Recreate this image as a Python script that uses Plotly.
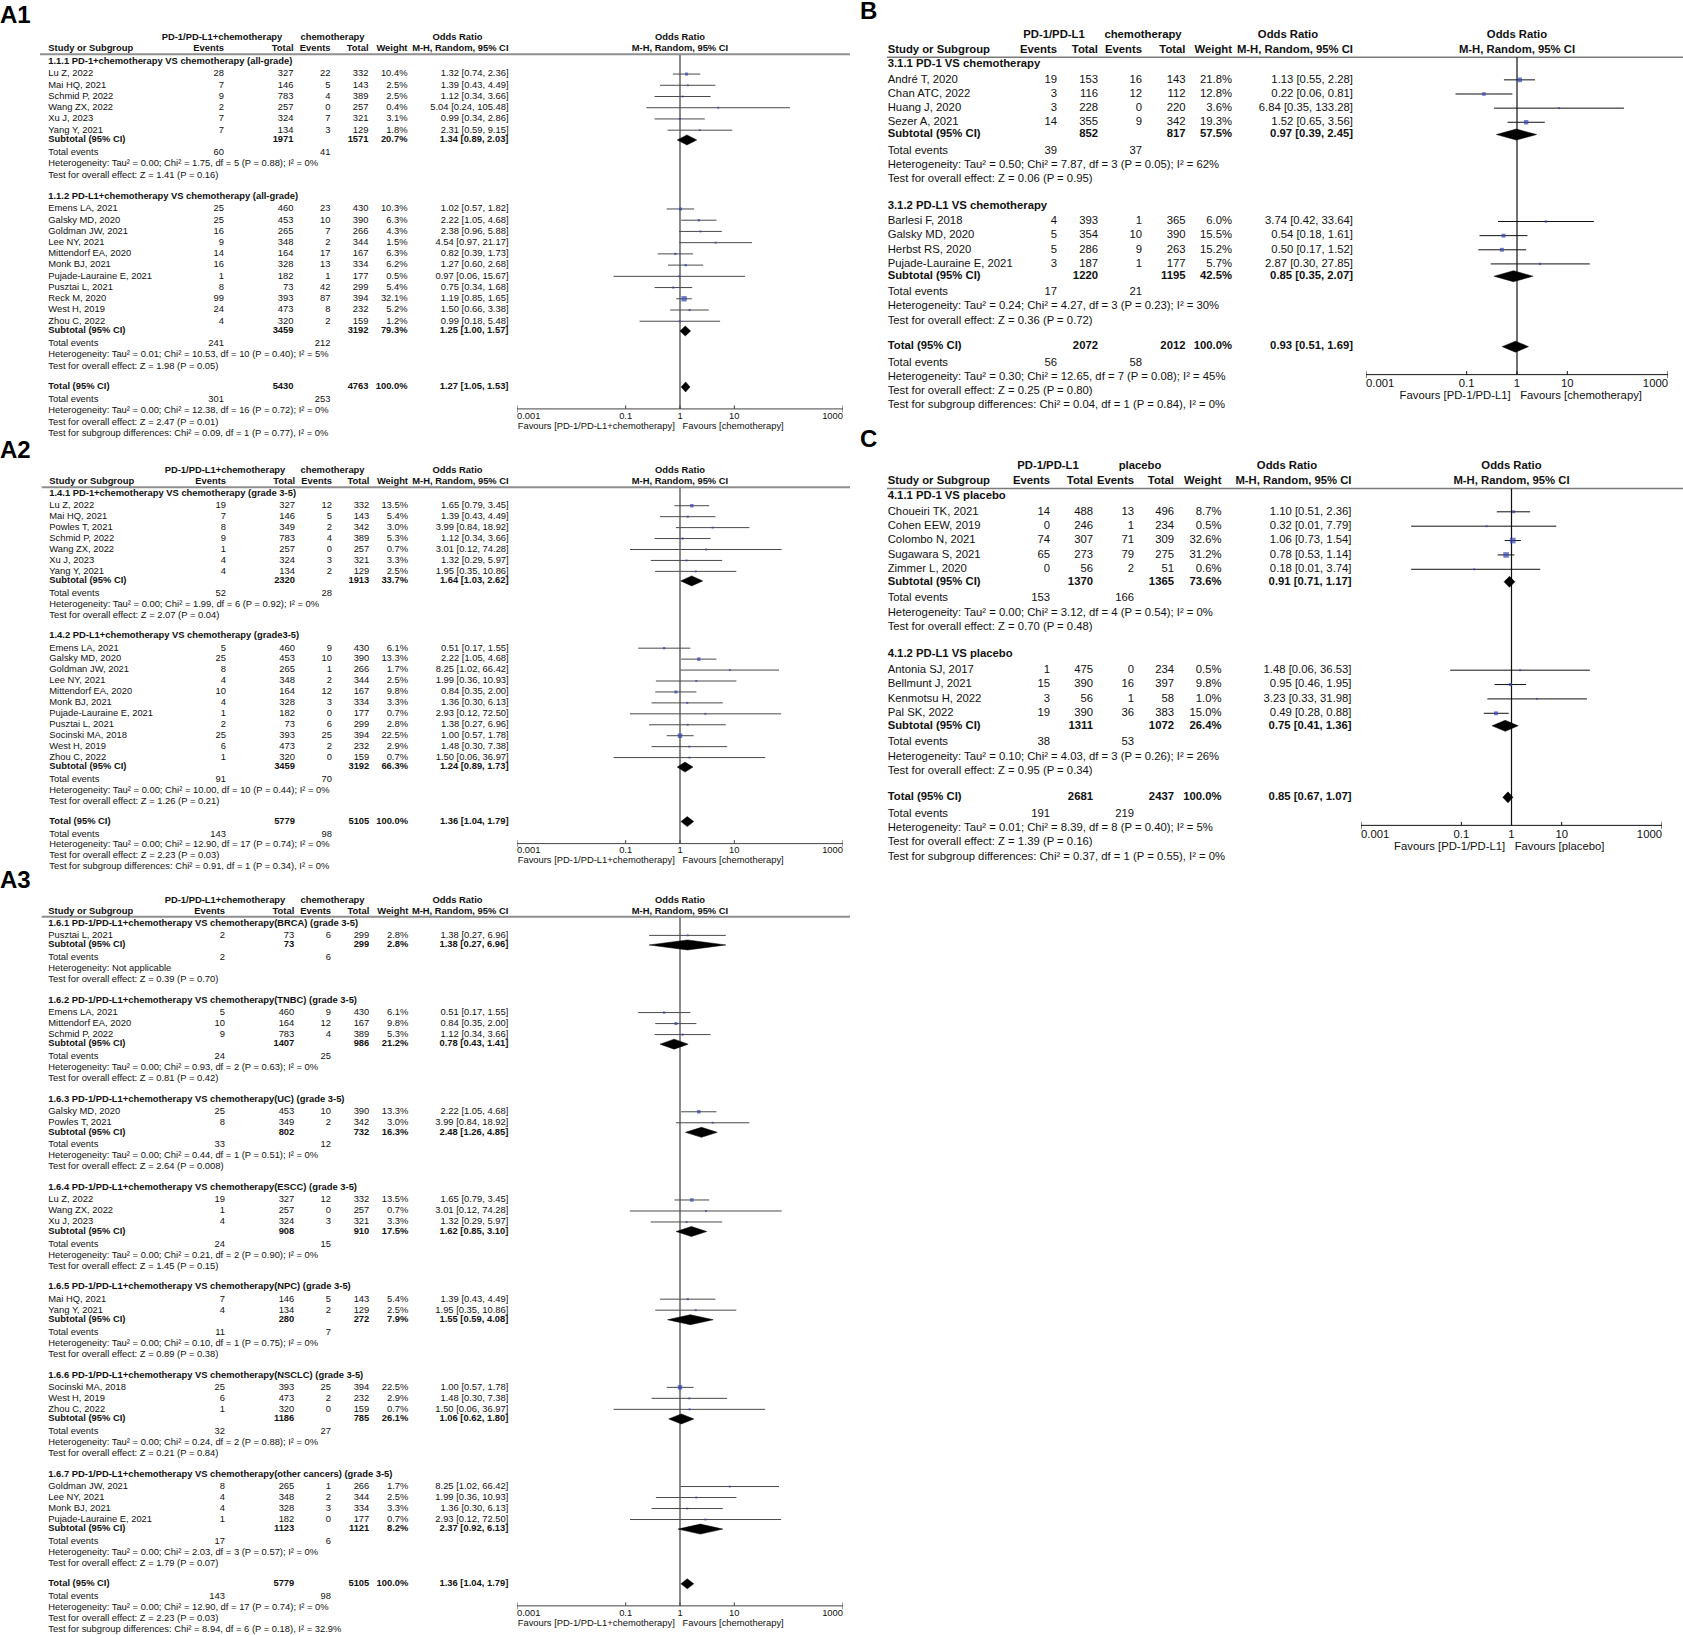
import math
import plotly.graph_objects as go

W, H = 1683, 1635

# ======================= DATA =======================
AXIS_TICKS = [0.001, 0.1, 1, 10, 1000]
AXIS_TICK_LABELS = ["0.001", "0.1", "1", "10", "1000"]

# ---- Panel A1 ----
A1_HEADS = ("PD-1/PD-L1+chemotherapy", "chemotherapy")
A1_GROUPS = ["1.1.1 PD-1+chemotherapy VS chemotherapy (all-grade)",
             "1.1.2 PD-L1+chemotherapy VS chemotherapy (all-grade)"]
A1_STUDIES = [
    [("Lu Z, 2022", 28, 327, 22, 332, 10.4, 1.32, 0.74, 2.36),
     ("Mai HQ, 2021", 7, 146, 5, 143, 2.5, 1.39, 0.43, 4.49),
     ("Schmid P, 2022", 9, 783, 4, 389, 2.5, 1.12, 0.34, 3.66),
     ("Wang ZX, 2022", 2, 257, 0, 257, 0.4, 5.04, 0.24, 105.48),
     ("Xu J, 2023", 7, 324, 7, 321, 3.1, 0.99, 0.34, 2.86),
     ("Yang Y, 2021", 7, 134, 3, 129, 1.8, 2.31, 0.59, 9.15)],
    [("Emens LA, 2021", 25, 460, 23, 430, 10.3, 1.02, 0.57, 1.82),
     ("Galsky MD, 2020", 25, 453, 10, 390, 6.3, 2.22, 1.05, 4.68),
     ("Goldman JW, 2021", 16, 265, 7, 266, 4.3, 2.38, 0.96, 5.88),
     ("Lee NY, 2021", 9, 348, 2, 344, 1.5, 4.54, 0.97, 21.17),
     ("Mittendorf EA, 2020", 14, 164, 17, 167, 6.3, 0.82, 0.39, 1.73),
     ("Monk BJ, 2021", 16, 328, 13, 334, 6.2, 1.27, 0.60, 2.68),
     ("Pujade-Lauraine E, 2021", 1, 182, 1, 177, 0.5, 0.97, 0.06, 15.67),
     ("Pusztai L, 2021", 8, 73, 42, 299, 5.4, 0.75, 0.34, 1.68),
     ("Reck M, 2020", 99, 393, 87, 394, 32.1, 1.19, 0.85, 1.65),
     ("West H, 2019", 24, 473, 8, 232, 5.2, 1.50, 0.66, 3.38),
     ("Zhou C, 2022", 4, 320, 2, 159, 1.2, 0.99, 0.18, 5.48)]]
A1_SUBTOTALS = [(1971, 1571, 20.7, 1.34, 0.89, 2.03), (3459, 3192, 79.3, 1.25, 1.00, 1.57)]
A1_EVENTS = [(60, 41), (241, 212)]
A1_HETERO = ["Heterogeneity: Tau² = 0.00; Chi² = 1.75, df = 5 (P = 0.88); I² = 0%",
             "Heterogeneity: Tau² = 0.01; Chi² = 10.53, df = 10 (P = 0.40); I² = 5%"]
A1_EFFECT = ["Test for overall effect: Z = 1.41 (P = 0.16)",
             "Test for overall effect: Z = 1.98 (P = 0.05)"]
A1_TOTAL = (5430, 4763, 100.0, 1.27, 1.05, 1.53)
A1_TOTAL_EVENTS = (301, 253)
A1_TOTAL_HETERO = "Heterogeneity: Tau² = 0.00; Chi² = 12.38, df = 16 (P = 0.72); I² = 0%"
A1_TOTAL_EFFECT = "Test for overall effect: Z = 2.47 (P = 0.01)"
A1_SUBGROUP_DIFF = "Test for subgroup differences: Chi² = 0.09, df = 1 (P = 0.77), I² = 0%"
A1_FAVOURS = ("Favours [PD-1/PD-L1+chemotherapy]", "Favours [chemotherapy]")

# ---- Panel A2 ----
A2_HEADS = ("PD-1/PD-L1+chemotherapy", "chemotherapy")
A2_GROUPS = ["1.4.1 PD-1+chemotherapy VS chemotherapy (grade 3-5)",
             "1.4.2 PD-L1+chemotherapy VS chemotherapy (grade3-5)"]
A2_STUDIES = [
    [("Lu Z, 2022", 19, 327, 12, 332, 13.5, 1.65, 0.79, 3.45),
     ("Mai HQ, 2021", 7, 146, 5, 143, 5.4, 1.39, 0.43, 4.49),
     ("Powles T, 2021", 8, 349, 2, 342, 3.0, 3.99, 0.84, 18.92),
     ("Schmid P, 2022", 9, 783, 4, 389, 5.3, 1.12, 0.34, 3.66),
     ("Wang ZX, 2022", 1, 257, 0, 257, 0.7, 3.01, 0.12, 74.28),
     ("Xu J, 2023", 4, 324, 3, 321, 3.3, 1.32, 0.29, 5.97),
     ("Yang Y, 2021", 4, 134, 2, 129, 2.5, 1.95, 0.35, 10.86)],
    [("Emens LA, 2021", 5, 460, 9, 430, 6.1, 0.51, 0.17, 1.55),
     ("Galsky MD, 2020", 25, 453, 10, 390, 13.3, 2.22, 1.05, 4.68),
     ("Goldman JW, 2021", 8, 265, 1, 266, 1.7, 8.25, 1.02, 66.42),
     ("Lee NY, 2021", 4, 348, 2, 344, 2.5, 1.99, 0.36, 10.93),
     ("Mittendorf EA, 2020", 10, 164, 12, 167, 9.8, 0.84, 0.35, 2.00),
     ("Monk BJ, 2021", 4, 328, 3, 334, 3.3, 1.36, 0.30, 6.13),
     ("Pujade-Lauraine E, 2021", 1, 182, 0, 177, 0.7, 2.93, 0.12, 72.50),
     ("Pusztai L, 2021", 2, 73, 6, 299, 2.8, 1.38, 0.27, 6.96),
     ("Socinski MA, 2018", 25, 393, 25, 394, 22.5, 1.00, 0.57, 1.78),
     ("West H, 2019", 6, 473, 2, 232, 2.9, 1.48, 0.30, 7.38),
     ("Zhou C, 2022", 1, 320, 0, 159, 0.7, 1.50, 0.06, 36.97)]]
A2_SUBTOTALS = [(2320, 1913, 33.7, 1.64, 1.03, 2.62), (3459, 3192, 66.3, 1.24, 0.89, 1.73)]
A2_EVENTS = [(52, 28), (91, 70)]
A2_HETERO = ["Heterogeneity: Tau² = 0.00; Chi² = 1.99, df = 6 (P = 0.92); I² = 0%",
             "Heterogeneity: Tau² = 0.00; Chi² = 10.00, df = 10 (P = 0.44); I² = 0%"]
A2_EFFECT = ["Test for overall effect: Z = 2.07 (P = 0.04)",
             "Test for overall effect: Z = 1.26 (P = 0.21)"]
A2_TOTAL = (5779, 5105, 100.0, 1.36, 1.04, 1.79)
A2_TOTAL_EVENTS = (143, 98)
A2_TOTAL_HETERO = "Heterogeneity: Tau² = 0.00; Chi² = 12.90, df = 17 (P = 0.74); I² = 0%"
A2_TOTAL_EFFECT = "Test for overall effect: Z = 2.23 (P = 0.03)"
A2_SUBGROUP_DIFF = "Test for subgroup differences: Chi² = 0.91, df = 1 (P = 0.34), I² = 0%"
A2_FAVOURS = ("Favours [PD-1/PD-L1+chemotherapy]", "Favours [chemotherapy]")

# ---- Panel A3 ----
A3_HEADS = ("PD-1/PD-L1+chemotherapy", "chemotherapy")
A3_GROUPS = ["1.6.1 PD-1/PD-L1+chemotherapy VS chemotherapy(BRCA) (grade 3-5)",
             "1.6.2 PD-1/PD-L1+chemotherapy VS chemotherapy(TNBC) (grade 3-5)",
             "1.6.3 PD-1/PD-L1+chemotherapy VS chemotherapy(UC) (grade 3-5)",
             "1.6.4 PD-1/PD-L1+chemotherapy VS chemotherapy(ESCC) (grade 3-5)",
             "1.6.5 PD-1/PD-L1+chemotherapy VS chemotherapy(NPC) (grade 3-5)",
             "1.6.6 PD-1/PD-L1+chemotherapy VS chemotherapy(NSCLC) (grade 3-5)",
             "1.6.7 PD-1/PD-L1+chemotherapy VS chemotherapy(other cancers) (grade 3-5)"]
A3_STUDIES = [
    [("Pusztai L, 2021", 2, 73, 6, 299, 2.8, 1.38, 0.27, 6.96)],
    [("Emens LA, 2021", 5, 460, 9, 430, 6.1, 0.51, 0.17, 1.55),
     ("Mittendorf EA, 2020", 10, 164, 12, 167, 9.8, 0.84, 0.35, 2.00),
     ("Schmid P, 2022", 9, 783, 4, 389, 5.3, 1.12, 0.34, 3.66)],
    [("Galsky MD, 2020", 25, 453, 10, 390, 13.3, 2.22, 1.05, 4.68),
     ("Powles T, 2021", 8, 349, 2, 342, 3.0, 3.99, 0.84, 18.92)],
    [("Lu Z, 2022", 19, 327, 12, 332, 13.5, 1.65, 0.79, 3.45),
     ("Wang ZX, 2022", 1, 257, 0, 257, 0.7, 3.01, 0.12, 74.28),
     ("Xu J, 2023", 4, 324, 3, 321, 3.3, 1.32, 0.29, 5.97)],
    [("Mai HQ, 2021", 7, 146, 5, 143, 5.4, 1.39, 0.43, 4.49),
     ("Yang Y, 2021", 4, 134, 2, 129, 2.5, 1.95, 0.35, 10.86)],
    [("Socinski MA, 2018", 25, 393, 25, 394, 22.5, 1.00, 0.57, 1.78),
     ("West H, 2019", 6, 473, 2, 232, 2.9, 1.48, 0.30, 7.38),
     ("Zhou C, 2022", 1, 320, 0, 159, 0.7, 1.50, 0.06, 36.97)],
    [("Goldman JW, 2021", 8, 265, 1, 266, 1.7, 8.25, 1.02, 66.42),
     ("Lee NY, 2021", 4, 348, 2, 344, 2.5, 1.99, 0.36, 10.93),
     ("Monk BJ, 2021", 4, 328, 3, 334, 3.3, 1.36, 0.30, 6.13),
     ("Pujade-Lauraine E, 2021", 1, 182, 0, 177, 0.7, 2.93, 0.12, 72.50)]]
A3_SUBTOTALS = [(73, 299, 2.8, 1.38, 0.27, 6.96), (1407, 986, 21.2, 0.78, 0.43, 1.41),
                (802, 732, 16.3, 2.48, 1.26, 4.85), (908, 910, 17.5, 1.62, 0.85, 3.10),
                (280, 272, 7.9, 1.55, 0.59, 4.08), (1186, 785, 26.1, 1.06, 0.62, 1.80),
                (1123, 1121, 8.2, 2.37, 0.92, 6.13)]
A3_EVENTS = [(2, 6), (24, 25), (33, 12), (24, 15), (11, 7), (32, 27), (17, 6)]
A3_HETERO = ["Heterogeneity: Not applicable",
             "Heterogeneity: Tau² = 0.00; Chi² = 0.93, df = 2 (P = 0.63); I² = 0%",
             "Heterogeneity: Tau² = 0.00; Chi² = 0.44, df = 1 (P = 0.51); I² = 0%",
             "Heterogeneity: Tau² = 0.00; Chi² = 0.21, df = 2 (P = 0.90); I² = 0%",
             "Heterogeneity: Tau² = 0.00; Chi² = 0.10, df = 1 (P = 0.75); I² = 0%",
             "Heterogeneity: Tau² = 0.00; Chi² = 0.24, df = 2 (P = 0.88); I² = 0%",
             "Heterogeneity: Tau² = 0.00; Chi² = 2.03, df = 3 (P = 0.57); I² = 0%"]
A3_EFFECT = ["Test for overall effect: Z = 0.39 (P = 0.70)",
             "Test for overall effect: Z = 0.81 (P = 0.42)",
             "Test for overall effect: Z = 2.64 (P = 0.008)",
             "Test for overall effect: Z = 1.45 (P = 0.15)",
             "Test for overall effect: Z = 0.89 (P = 0.38)",
             "Test for overall effect: Z = 0.21 (P = 0.84)",
             "Test for overall effect: Z = 1.79 (P = 0.07)"]
A3_TOTAL = (5779, 5105, 100.0, 1.36, 1.04, 1.79)
A3_TOTAL_EVENTS = (143, 98)
A3_TOTAL_HETERO = "Heterogeneity: Tau² = 0.00; Chi² = 12.90, df = 17 (P = 0.74); I² = 0%"
A3_TOTAL_EFFECT = "Test for overall effect: Z = 2.23 (P = 0.03)"
A3_SUBGROUP_DIFF = "Test for subgroup differences: Chi² = 8.94, df = 6 (P = 0.18), I² = 32.9%"
A3_FAVOURS = ("Favours [PD-1/PD-L1+chemotherapy]", "Favours [chemotherapy]")

# ---- Panel B ----
B_HEADS = ("PD-1/PD-L1", "chemotherapy")
B_GROUPS = ["3.1.1 PD-1 VS chemotherapy", "3.1.2 PD-L1 VS chemotherapy"]
B_STUDIES = [
    [("André T, 2020", 19, 153, 16, 143, 21.8, 1.13, 0.55, 2.28),
     ("Chan ATC, 2022", 3, 116, 12, 112, 12.8, 0.22, 0.06, 0.81),
     ("Huang J, 2020", 3, 228, 0, 220, 3.6, 6.84, 0.35, 133.28),
     ("Sezer A, 2021", 14, 355, 9, 342, 19.3, 1.52, 0.65, 3.56)],
    [("Barlesi F, 2018", 4, 393, 1, 365, 6.0, 3.74, 0.42, 33.64),
     ("Galsky MD, 2020", 5, 354, 10, 390, 15.5, 0.54, 0.18, 1.61),
     ("Herbst RS, 2020", 5, 286, 9, 263, 15.2, 0.50, 0.17, 1.52),
     ("Pujade-Lauraine E, 2021", 3, 187, 1, 177, 5.7, 2.87, 0.30, 27.85)]]
B_SUBTOTALS = [(852, 817, 57.5, 0.97, 0.39, 2.45), (1220, 1195, 42.5, 0.85, 0.35, 2.07)]
B_EVENTS = [(39, 37), (17, 21)]
B_HETERO = ["Heterogeneity: Tau² = 0.50; Chi² = 7.87, df = 3 (P = 0.05); I² = 62%",
            "Heterogeneity: Tau² = 0.24; Chi² = 4.27, df = 3 (P = 0.23); I² = 30%"]
B_EFFECT = ["Test for overall effect: Z = 0.06 (P = 0.95)",
            "Test for overall effect: Z = 0.36 (P = 0.72)"]
B_TOTAL = (2072, 2012, 100.0, 0.93, 0.51, 1.69)
B_TOTAL_EVENTS = (56, 58)
B_TOTAL_HETERO = "Heterogeneity: Tau² = 0.30; Chi² = 12.65, df = 7 (P = 0.08); I² = 45%"
B_TOTAL_EFFECT = "Test for overall effect: Z = 0.25 (P = 0.80)"
B_SUBGROUP_DIFF = "Test for subgroup differences: Chi² = 0.04, df = 1 (P = 0.84), I² = 0%"
B_FAVOURS = ("Favours [PD-1/PD-L1]", "Favours [chemotherapy]")

# ---- Panel C ----
C_HEADS = ("PD-1/PD-L1", "placebo")
C_GROUPS = ["4.1.1 PD-1 VS placebo", "4.1.2 PD-L1 VS placebo"]
C_STUDIES = [
    [("Choueiri TK, 2021", 14, 488, 13, 496, 8.7, 1.10, 0.51, 2.36),
     ("Cohen EEW, 2019", 0, 246, 1, 234, 0.5, 0.32, 0.01, 7.79),
     ("Colombo N, 2021", 74, 307, 71, 309, 32.6, 1.06, 0.73, 1.54),
     ("Sugawara S, 2021", 65, 273, 79, 275, 31.2, 0.78, 0.53, 1.14),
     ("Zimmer L, 2020", 0, 56, 2, 51, 0.6, 0.18, 0.01, 3.74)],
    [("Antonia SJ, 2017", 1, 475, 0, 234, 0.5, 1.48, 0.06, 36.53),
     ("Bellmunt J, 2021", 15, 390, 16, 397, 9.8, 0.95, 0.46, 1.95),
     ("Kenmotsu H, 2022", 3, 56, 1, 58, 1.0, 3.23, 0.33, 31.98),
     ("Pal SK, 2022", 19, 390, 36, 383, 15.0, 0.49, 0.28, 0.88)]]
C_SUBTOTALS = [(1370, 1365, 73.6, 0.91, 0.71, 1.17), (1311, 1072, 26.4, 0.75, 0.41, 1.36)]
C_EVENTS = [(153, 166), (38, 53)]
C_HETERO = ["Heterogeneity: Tau² = 0.00; Chi² = 3.12, df = 4 (P = 0.54); I² = 0%",
            "Heterogeneity: Tau² = 0.10; Chi² = 4.03, df = 3 (P = 0.26); I² = 26%"]
C_EFFECT = ["Test for overall effect: Z = 0.70 (P = 0.48)",
            "Test for overall effect: Z = 0.95 (P = 0.34)"]
C_TOTAL = (2681, 2437, 100.0, 0.85, 0.67, 1.07)
C_TOTAL_EVENTS = (191, 219)
C_TOTAL_HETERO = "Heterogeneity: Tau² = 0.01; Chi² = 8.39, df = 8 (P = 0.40); I² = 5%"
C_TOTAL_EFFECT = "Test for overall effect: Z = 1.39 (P = 0.16)"
C_SUBGROUP_DIFF = "Test for subgroup differences: Chi² = 0.37, df = 1 (P = 0.55), I² = 0%"
C_FAVOURS = ("Favours [PD-1/PD-L1]", "Favours [placebo]")

# ======================= LAYOUT / STYLE =======================
FONT = "Liberation Sans, Arial, Helvetica, sans-serif"
BLUE = "#3545b0"

STYLE_A = dict(fs=9.4, sq_k=0.95, dia=5.0, ci_col="#4a4a4a", vline_col="#8a8a8a", vline_w=2,
               sep_col="#8f8f8f", sep_w=2, axis_col="#444444", axis_dy=22, tick_dy=29.5,
               fav_dy=39.5, xaxis="x2", dom=(517, 843))
STYLE_BC = dict(fs=11.3, sq_k=1.0, dia=5.5, ci_col="#111111", vline_col="#111111", vline_w=1.2,
                sep_col="#7a7a7a", sep_w=1.6, axis_col="#111111", axis_dy=28, tick_dy=38,
                fav_dy=50)

LAYOUTS = {
    "A1": dict(STYLE_A, label="A1", label_pos=(0, 16.5), study_x=48.3,
               cols=(224, 293.5, 330.5, 368.5, 407.5, 508.5), heads_c=(222, 332.5, 457.5),
               head_y=(37.5, 48.7), sep_y=54.2, sep_x=(40, 850), first=61.7, last=433.5),
    "A2": dict(STYLE_A, label="A2", label_pos=(0, 452), study_x=49.3,
               cols=(226, 295, 332, 369.3, 408, 508.7), heads_c=(225, 332.5, 457.5),
               head_y=(470.5, 481.7), sep_y=487.2, sep_x=(41.7, 850), first=493.7, last=867),
    "A3": dict(STYLE_A, label="A3", label_pos=(0, 882), study_x=48.3,
               cols=(225, 294.3, 331, 369.3, 408.3, 508.3), heads_c=(225, 332.5, 457.5),
               head_y=(900.5, 911.3), sep_y=916.8, sep_x=(41.7, 850), first=923.3, last=1629.5),
    "B": dict(STYLE_BC, label="B", label_pos=(860, 12.5), study_x=887.7,
              cols=(1057, 1098, 1142, 1185.5, 1232, 1353), heads_c=(1054, 1143, 1288),
              head_y=(35, 50), sep_y=57.3, sep_x=(887, 1683), first=64.3, last=405.3,
              xaxis="x3", dom=(1366, 1668)),
    "C": dict(STYLE_BC, label="C", label_pos=(860, 441), study_x=887.7,
              cols=(1050, 1093, 1134, 1174, 1221.5, 1351.5), heads_c=(1048, 1140, 1287),
              head_y=(466, 481), sep_y=488.5, sep_x=(887, 1683), first=496, last=857,
              xaxis="x4", dom=(1361, 1662)),
}

PANELS = [
    ("A1", dict(heads=A1_HEADS, groups=A1_GROUPS, studies=A1_STUDIES, subs=A1_SUBTOTALS,
                events=A1_EVENTS, het=A1_HETERO, eff=A1_EFFECT, total=A1_TOTAL,
                tevents=A1_TOTAL_EVENTS, thet=A1_TOTAL_HETERO, teff=A1_TOTAL_EFFECT,
                sgd=A1_SUBGROUP_DIFF, fav=A1_FAVOURS)),
    ("A2", dict(heads=A2_HEADS, groups=A2_GROUPS, studies=A2_STUDIES, subs=A2_SUBTOTALS,
                events=A2_EVENTS, het=A2_HETERO, eff=A2_EFFECT, total=A2_TOTAL,
                tevents=A2_TOTAL_EVENTS, thet=A2_TOTAL_HETERO, teff=A2_TOTAL_EFFECT,
                sgd=A2_SUBGROUP_DIFF, fav=A2_FAVOURS)),
    ("A3", dict(heads=A3_HEADS, groups=A3_GROUPS, studies=A3_STUDIES, subs=A3_SUBTOTALS,
                events=A3_EVENTS, het=A3_HETERO, eff=A3_EFFECT, total=A3_TOTAL,
                tevents=A3_TOTAL_EVENTS, thet=A3_TOTAL_HETERO, teff=A3_TOTAL_EFFECT,
                sgd=A3_SUBGROUP_DIFF, fav=A3_FAVOURS)),
    ("B", dict(heads=B_HEADS, groups=B_GROUPS, studies=B_STUDIES, subs=B_SUBTOTALS,
               events=B_EVENTS, het=B_HETERO, eff=B_EFFECT, total=B_TOTAL,
               tevents=B_TOTAL_EVENTS, thet=B_TOTAL_HETERO, teff=B_TOTAL_EFFECT,
               sgd=B_SUBGROUP_DIFF, fav=B_FAVOURS)),
    ("C", dict(heads=C_HEADS, groups=C_GROUPS, studies=C_STUDIES, subs=C_SUBTOTALS,
               events=C_EVENTS, het=C_HETERO, eff=C_EFFECT, total=C_TOTAL,
               tevents=C_TOTAL_EVENTS, thet=C_TOTAL_HETERO, teff=C_TOTAL_EFFECT,
               sgd=C_SUBGROUP_DIFF, fav=C_FAVOURS)),
]


def ci_text(o, lo, hi):
    return f"{o:.2f} [{lo:.2f}, {hi:.2f}]"


fig = go.Figure()
LEFT, RIGHT, CENTER = "middle right", "middle left", "middle center"


def draw_panel(key, D):
    L = LAYOUTS[key]
    # ---- row positions (in row units) ----
    rows = []
    u = 0.0
    for gi, gname in enumerate(D["groups"]):
        if gi > 0:
            u += 1.9
        rows.append(("ghead", u, gname))
        for si, s in enumerate(D["studies"][gi]):
            u += 1.1 if si == 0 else 1.0
            rows.append(("study", u, s))
        u += 0.87
        rows.append(("sub", u, D["subs"][gi]))
        u += 1.15
        rows.append(("events", u, D["events"][gi]))
        u += 1.0
        rows.append(("text", u, D["het"][gi]))
        u += 1.0
        rows.append(("text", u, D["eff"][gi]))
    u += 1.83
    rows.append(("total", u, D["total"]))
    u += 1.15
    rows.append(("events", u, D["tevents"]))
    u += 1.0
    rows.append(("text", u, D["thet"]))
    u += 1.0
    rows.append(("text", u, D["teff"]))
    u += 1.0
    rows.append(("text", u, D["sgd"]))
    h = (L["last"] - L["first"]) / u

    def Y(uu):
        return L["first"] + uu * h

    ee, et, ce, ct, wr, cir = L["cols"]
    sx = L["study_x"]
    tx, ty, tt, tp = [], [], [], []

    def T(x, y, s, pos, bold=False):
        tx.append(x); ty.append(y); tt.append(f"<b>{s}</b>" if bold else s); tp.append(pos)

    # headers
    y1, y2 = L["head_y"]
    T(L["heads_c"][0], y1, D["heads"][0], CENTER, True)
    T(L["heads_c"][1], y1, D["heads"][1], CENTER, True)
    T(L["heads_c"][2], y1, "Odds Ratio", CENTER, True)
    T(sx, y2, "Study or Subgroup", LEFT, True)
    T(ee, y2, "Events", RIGHT, True)
    T(et, y2, "Total", RIGHT, True)
    T(ce, y2, "Events", RIGHT, True)
    T(ct, y2, "Total", RIGHT, True)
    T(wr, y2, "Weight", RIGHT, True)
    T(cir, y2, "M-H, Random, 95% CI", RIGHT, True)

    sq_x, sq_y, sq_s = [], [], []
    ci_x, ci_y = [], []
    diamonds = []
    y_total = None
    for kind, uu, p in rows:
        y = Y(uu)
        if kind == "ghead":
            T(sx, y, p, LEFT, True)
        elif kind == "study":
            name, e1, n1, e2, n2, w, o, lo, hi = p
            T(sx, y, name, LEFT)
            T(ee, y, str(e1), RIGHT)
            T(et, y, str(n1), RIGHT)
            T(ce, y, str(e2), RIGHT)
            T(ct, y, str(n2), RIGHT)
            T(wr, y, f"{w:.1f}%", RIGHT)
            T(cir, y, ci_text(o, lo, hi), RIGHT)
            sq_x.append(o); sq_y.append(y); sq_s.append(max(2.0, L["sq_k"] * math.sqrt(w)))
            ci_x += [lo, hi, None]; ci_y += [y, y, None]
        elif kind in ("sub", "total"):
            n1, n2, w, o, lo, hi = p
            T(sx, y, "Subtotal (95% CI)" if kind == "sub" else "Total (95% CI)", LEFT, True)
            T(et, y, str(n1), RIGHT, True)
            T(ct, y, str(n2), RIGHT, True)
            T(wr, y, f"{w:.1f}%", RIGHT, True)
            T(cir, y, ci_text(o, lo, hi), RIGHT, True)
            diamonds.append((o, lo, hi, y))
            if kind == "total":
                y_total = y
        elif kind == "events":
            T(sx, y, "Total events", LEFT)
            T(ee, y, str(p[0]), RIGHT)
            T(ce, y, str(p[1]), RIGHT)
        else:
            T(sx, y, p, LEFT)

    xa = L["xaxis"]
    fs = L["fs"]
    # header separator line
    fig.add_trace(go.Scatter(x=list(L["sep_x"]), y=[L["sep_y"], L["sep_y"]], mode="lines",
                             line=dict(color=L["sep_col"], width=L["sep_w"]),
                             xaxis="x", yaxis="y", hoverinfo="skip", showlegend=False))
    y_axis = y_total + L["axis_dy"]
    # reference line at OR = 1
    fig.add_trace(go.Scatter(x=[1, 1], y=[L["sep_y"], y_axis], mode="lines",
                             line=dict(color=L["vline_col"], width=L["vline_w"]),
                             xaxis=xa, yaxis="y", hoverinfo="skip", showlegend=False))
    # confidence intervals
    fig.add_trace(go.Scatter(x=ci_x, y=ci_y, mode="lines",
                             line=dict(color=L["ci_col"], width=1),
                             xaxis=xa, yaxis="y", hoverinfo="skip", showlegend=False))
    # study squares
    fig.add_trace(go.Scatter(x=sq_x, y=sq_y, mode="markers",
                             marker=dict(symbol="square", size=sq_s, color=BLUE, line=dict(width=0)),
                             xaxis=xa, yaxis="y", hoverinfo="skip", showlegend=False))
    # diamonds
    d = L["dia"]
    for o, lo, hi, y in diamonds:
        fig.add_trace(go.Scatter(x=[lo, o, hi, o, lo], y=[y, y - d, y, y + d, y], mode="lines",
                                 fill="toself", fillcolor="black", line=dict(color="black", width=0.5),
                                 xaxis=xa, yaxis="y", hoverinfo="skip", showlegend=False))
    # axis line and ticks
    ax_x = [AXIS_TICKS[0], AXIS_TICKS[-1], None]
    ax_y = [y_axis, y_axis, None]
    for i, t in enumerate(AXIS_TICKS):
        if i in (0, len(AXIS_TICKS) - 1):
            ax_x += [t, t, None]; ax_y += [y_axis - 3.5, y_axis + 3.5, None]
        else:
            ax_x += [t, t, None]; ax_y += [y_axis - 3.5, y_axis, None]
    fig.add_trace(go.Scatter(x=ax_x, y=ax_y, mode="lines", line=dict(color=L["axis_col"], width=1),
                             xaxis=xa, yaxis="y", hoverinfo="skip", showlegend=False))
    # tick labels, plot header, favours (on the log axis)
    lpos = [LEFT] + [CENTER] * (len(AXIS_TICKS) - 2) + [RIGHT]
    lx = list(AXIS_TICKS) + [1, 1, 1, 1]
    ly = [y_total + L["tick_dy"]] * len(AXIS_TICKS)
    ly += [y1, y2, y_total + L["fav_dy"], y_total + L["fav_dy"]]
    lt = list(AXIS_TICK_LABELS) + ["<b>Odds Ratio</b>", "<b>M-H, Random, 95% CI</b>",
                                   D["fav"][0] + "\u00a0\u00a0", "\u00a0" + D["fav"][1]]
    lpos += [CENTER, CENTER, RIGHT, LEFT]
    fig.add_trace(go.Scatter(x=lx, y=ly, text=lt, mode="text", textposition=lpos,
                             textfont=dict(family=FONT, size=fs, color="#111111"),
                             cliponaxis=False,
                             xaxis=xa, yaxis="y", hoverinfo="skip", showlegend=False))
    # table text
    fig.add_trace(go.Scatter(x=tx, y=ty, text=tt, mode="text", textposition=tp,
                             textfont=dict(family=FONT, size=fs, color="#111111"),
                             cliponaxis=False,
                             xaxis="x", yaxis="y", hoverinfo="skip", showlegend=False))
    # panel label
    lxp, lyp = L["label_pos"]
    fig.add_trace(go.Scatter(x=[lxp], y=[lyp], text=[f"<b>{L['label']}</b>"], mode="text",
                             textposition=LEFT, cliponaxis=False,
                             textfont=dict(family="Liberation Sans, Arial, sans-serif", size=24,
                                           color="#000000"),
                             xaxis="x", yaxis="y", hoverinfo="skip", showlegend=False))


for key, D in PANELS:
    draw_panel(key, D)

axis_common = dict(visible=False, showgrid=False, zeroline=False, fixedrange=True)
fig.update_layout(
    width=W, height=H,
    margin=dict(l=0, r=0, t=0, b=0),
    paper_bgcolor="white", plot_bgcolor="rgba(0,0,0,0)",
    showlegend=False,
    xaxis=dict(range=[0, W], domain=[0, 1], anchor="y", **axis_common),
    yaxis=dict(range=[H, 0], domain=[0, 1], anchor="x", **axis_common),
    xaxis2=dict(type="log", range=[-3, 3], domain=[LAYOUTS["A1"]["dom"][0] / W, LAYOUTS["A1"]["dom"][1] / W],
                anchor="y", **axis_common),
    xaxis3=dict(type="log", range=[-3, 3], domain=[LAYOUTS["B"]["dom"][0] / W, LAYOUTS["B"]["dom"][1] / W],
                anchor="y", **axis_common),
    xaxis4=dict(type="log", range=[-3, 3], domain=[LAYOUTS["C"]["dom"][0] / W, LAYOUTS["C"]["dom"][1] / W],
                anchor="y", **axis_common),
)

fig.write_html("out.html", config={"displayModeBar": False},
               post_script="document.body.style.margin='0';document.body.style.overflow='hidden';")
